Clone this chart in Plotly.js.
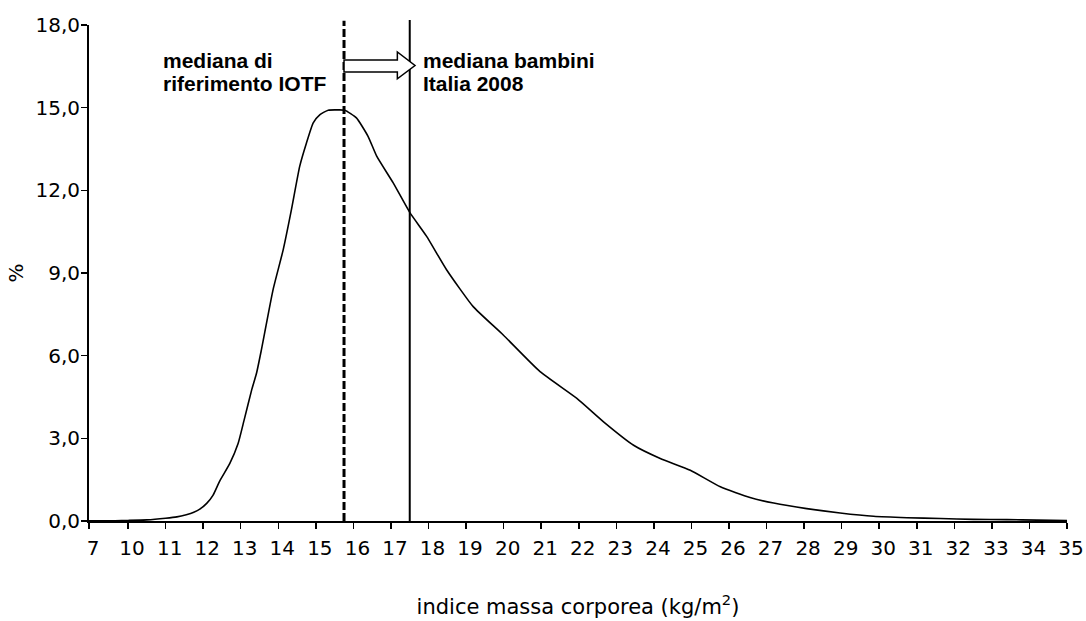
<!DOCTYPE html>
<html><head><meta charset="utf-8">
<script src="https://cdn.plot.ly/plotly-3.0.1.min.js"></script>
<style>html,body{margin:0;padding:0;background:#fff}#chart{width:1086px;height:621px}</style>
</head><body><div id="chart"></div>
<script>
// BMI values (kg/m2) and percentage of children
const bmi = [7, 8, 9, 10, 10.5, 11.0, 11.3, 11.55, 11.75, 11.91, 12.1, 12.26, 12.44, 12.71, 12.93, 13.09, 13.29, 13.42, 13.55, 13.86, 14.13, 14.35, 14.57, 14.75, 14.93, 15.11, 15.33, 15.55, 15.77, 16.08, 16.39, 16.62, 17.06, 17.5, 17.95, 18.48, 19.19, 19.99, 20.97, 21.95, 22.66, 23.46, 24.17, 24.97, 25.77, 26.56, 27.19, 28.07, 28.96, 29.85, 30.74, 31.63, 32.51, 33.40, 34.2, 35];
const pct = [0.01, 0.01, 0.01, 0.02, 0.04, 0.10, 0.15, 0.23, 0.32, 0.43, 0.65, 0.93, 1.45, 2.09, 2.81, 3.66, 4.75, 5.36, 6.21, 8.39, 9.84, 11.30, 12.87, 13.72, 14.45, 14.75, 14.91, 14.92, 14.91, 14.63, 13.96, 13.24, 12.27, 11.2, 10.33, 9.12, 7.78, 6.75, 5.42, 4.45, 3.60, 2.75, 2.27, 1.84, 1.24, 0.85, 0.65, 0.45, 0.29, 0.17, 0.12, 0.09, 0.06, 0.05, 0.03, 0.02];
const tickLabels = [7, 10, 11, 12, 13, 14, 15, 16, 17, 18, 19, 20, 21, 22, 23, 24, 25, 26, 27, 28, 29, 30, 31, 32, 33, 34, 35];
const yTicks = [0, 3, 6, 9, 12, 15, 18];
const medianIOTF = 15.75;   // mediana di riferimento IOTF
const medianItaly = 17.5;   // mediana bambini Italia 2008
const labelIOTF = ['mediana di', 'riferimento IOTF'];
const labelItaly = ['mediana bambini', 'Italia 2008'];

// category-axis position (the axis jumps from 7 to 10)
function pos(b) { return b >= 10 ? b - 8.96 : (b - 7) / 3 * 1.04; }

const xs = bmi.map(pos);

const trace = {
  x: xs, y: pct, type: 'scatter', mode: 'lines',
  line: {color: '#000', width: 1.6, shape: 'spline', smoothing: 0.5},
  hoverinfo: 'skip', showlegend: false
};

// block arrow from IOTF median to Italian median
const ax0 = pos(medianIOTF), axh = pos(medianItaly - 0.33), axt = pos(medianItaly + 0.14);
const ys0 = 16.29, ys1 = 16.73, yh0 = 16.05, yh1 = 17.02, ym = 16.53;
const arrowPath = `M${ax0},${ys0} L${axh},${ys0} L${axh},${yh0} L${axt},${ym} L${axh},${yh1} L${axh},${ys1} L${ax0},${ys1} Z`;

const boldFont = {family: '"Liberation Sans", Arial, sans-serif', size: 21, color: '#000', weight: 'bold'};
function ann(text, x, y) {
  return {text: '<b>' + text + '</b>', xref: 'paper', yref: 'paper', x: x, y: y,
    xanchor: 'left', yanchor: 'middle', showarrow: false, font: boldFont};
}

const layout = {
  width: 1086, height: 621,
  margin: {l: 89, r: 19, t: 25, b: 100},
  paper_bgcolor: '#fff', plot_bgcolor: '#fff',
  separators: ',.',
  font: {family: '"DejaVu Sans", sans-serif', size: 20, color: '#000'},
  xaxis: {
    range: [0, pos(35)], showgrid: false, zeroline: false,
    showline: true, linecolor: '#000', linewidth: 2,
    ticks: 'outside', ticklen: 6, tickwidth: 1.5, tickcolor: '#000',
    tickmode: 'array', tickvals: tickLabels.map(pos), ticktext: tickLabels.map(String),
    ticklabelshift: 4, ticklabelstandoff: 2,
    tickfont: {size: 20},
    title: {text: 'indice massa corporea (kg/m<sup>2</sup>)', font: {size: 21}, standoff: 40}
  },
  yaxis: {
    range: [0, 18], showgrid: false, zeroline: false,
    showline: true, linecolor: '#000', linewidth: 2,
    ticks: 'outside', ticklen: 6, tickwidth: 1.5, tickcolor: '#000',
    tickmode: 'array', tickvals: yTicks, tickformat: '.1f',
    ticklabelstandoff: -3,
    tickfont: {size: 20},
    title: {text: '%', font: {size: 20}, standoff: 6}
  },
  shapes: [
    {type: 'line', xref: 'x', yref: 'paper', x0: pos(medianIOTF), x1: pos(medianIOTF), y0: 0, y1: 1.0087,
     line: {color: '#000', width: 3, dash: '8px,3px'}},
    {type: 'line', xref: 'x', yref: 'paper', x0: pos(medianItaly), x1: pos(medianItaly), y0: 0, y1: 1.01,
     line: {color: '#000', width: 2}},
    {type: 'path', xref: 'x', yref: 'y', path: arrowPath, fillcolor: '#fff',
     line: {color: '#000', width: 1.5}}
  ],
  annotations: [
    ann(labelIOTF[0], 0.0735, 0.9278), ann(labelIOTF[1], 0.0735, 0.8827),
    ann(labelItaly[0], 0.3397, 0.9278), ann(labelItaly[1], 0.3397, 0.8827)
  ]
};

Plotly.newPlot('chart', [trace], layout, {displayModeBar: false, staticPlot: true});
</script>
</body></html>
